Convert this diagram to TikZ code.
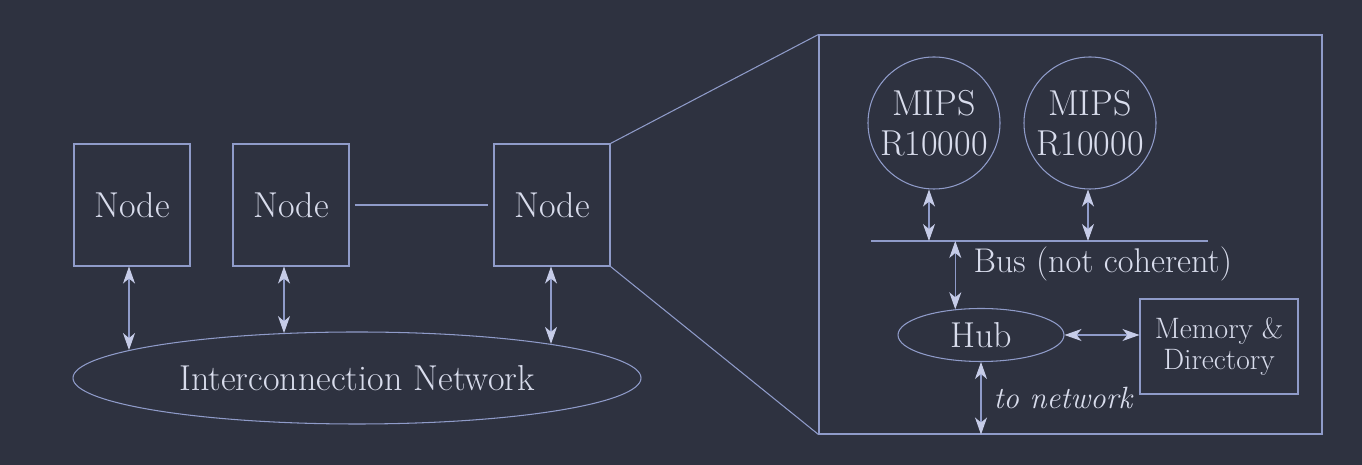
\documentclass[tikz,border=0pt]{standalone}
\usepackage{tikz}
\usetikzlibrary{arrows,arrows.meta,positioning}
\usetikzlibrary{shapes.geometric}
\definecolor{bgcol}{HTML}{2E3240}
\definecolor{linecol}{HTML}{8F9BC9}
\definecolor{txtcol}{HTML}{D8DCEC}
\definecolor{tipcol}{HTML}{C6CCE8}
\tikzstyle{unit} = [draw=linecol, rectangle, minimum width=2.32cm, minimum height=2.44cm, inner sep=0pt, font=\fontsize{20.5}{24}\selectfont]
\tikzstyle{cpu} = [draw=linecol, circle, minimum size=2.64cm, inner sep=0pt, align=center, font=\fontsize{20.5}{22.5}\selectfont]
\tikzstyle{biarrow} = [draw=linecol, >={Stealth[length=0.34cm,width=0.24cm,inset=0.1cm,color=tipcol]}, <->]

\begin{document}
\begin{tikzpicture}[line width=0.6pt, every node/.style={text=txtcol}]
                    \fill[bgcol] (0,0) rectangle (27.24,9.3);
                    % the machine
                    \foreach \name/\x in {n1/2.64, n2/5.82, n3/11.04}{
                        \node[unit] (\name) at (\x,5.2) {Node};
                    }
                    \node[draw=linecol, ellipse, minimum width=11.36cm, minimum height=1.84cm, inner sep=0pt,
                        font=\fontsize{20.5}{24}\selectfont] (net) at (7.14,1.74) {Interconnection Network};
                    \draw[linecol, shorten >=0.1cm, shorten <=0.1cm] (n2) -- (n3);
                    \foreach \name/\dx/\ang in {n1/-0.06/173, n2/-0.14/149, n3/-0.02/10}{
                        \draw[biarrow] ([xshift=\dx cm]\name.south) -- ([xshift=\dx cm]\name.south |- net.\ang);
                    }
                    % inside one node
                    \node[draw=linecol, minimum width=10.06cm, minimum height=7.98cm, inner sep=0pt] (zoom) at (21.41,4.61) {};
                    \draw[linecol] (n3.north east) -- (zoom.north west);
                    \draw[linecol] (n3.south east) -- (zoom.south west);
                    \node[cpu] (cpu1) at (18.68,6.84) {MIPS\\R10000};
                    \node[cpu] (cpu2) at (21.8,6.84) {MIPS\\R10000};
                    \coordinate (busl) at (17.42,4.48);
                    \coordinate (busr) at (24.16,4.48);
                    \draw[linecol] (busl) -- (busr);
                    \node[anchor=west, inner sep=0pt, font=\fontsize{19.5}{23}\selectfont] (buslabel) at (19.46,4.02) {Bus (not coherent)};
                    \node[draw=linecol, ellipse, minimum width=3.32cm, minimum height=1.06cm, inner sep=0pt,
                        font=\fontsize{20.5}{24}\selectfont] (hub) at (19.62,2.6) {Hub};
                    \node[draw=linecol, minimum width=3.16cm, minimum height=1.9cm, inner sep=0pt, align=center,
                        font=\fontsize{16.8}{18}\selectfont] (mem) at (24.38,2.37) {Memory \&\\Directory};
                    \draw[biarrow] ([xshift=-0.1cm]cpu1.south) -- ([xshift=-0.1cm]cpu1.south |- busl);
                    \draw[biarrow] ([xshift=-0.04cm]cpu2.south) -- ([xshift=-0.04cm]cpu2.south |- busl);
                    \draw[biarrow] (hub.135) -- (hub.135 |- busl);
                    \draw[biarrow] (hub.east) -- (hub.east -| mem.west);
                    \draw[biarrow] (hub.south) -- (hub.south |- zoom.south)
                        node[midway, right=0.24cm, inner sep=0pt, font=\fontsize{17.5}{20}\selectfont\itshape] (tonet) {to network};
                \end{tikzpicture}
\end{document}
